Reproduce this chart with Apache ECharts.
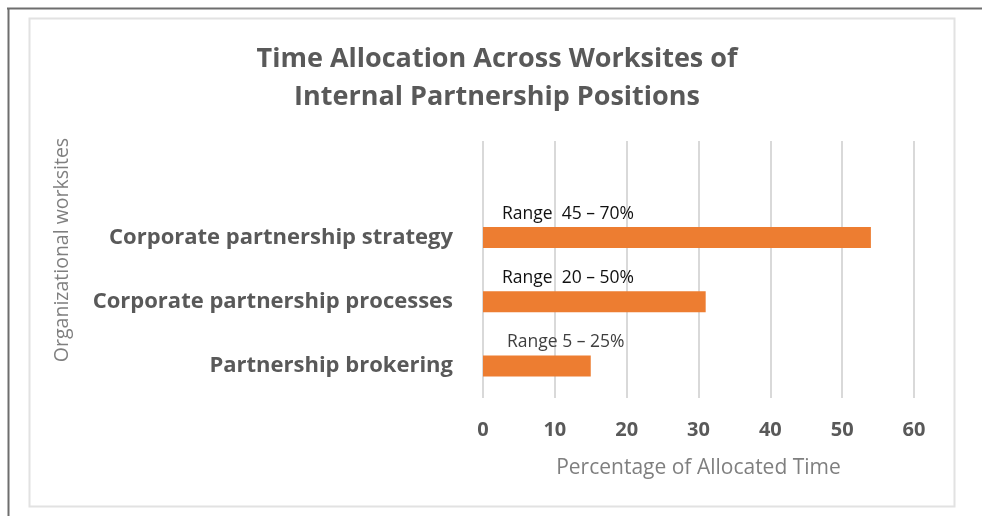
<!DOCTYPE html>
<html>
<head>
<meta charset="utf-8">
<script src="https://cdn.jsdelivr.net/npm/echarts@6/dist/echarts.min.js"></script>
<style>
  html, body { margin: 0; padding: 0; background: #fff; }
  #chart { width: 982px; height: 516px; }
</style>
</head>
<body>
<div id="chart"></div>
<script>
// categories, bottom to top (top row is an empty slot, as in the original)
const categories = ['Partnership brokering', 'Corporate partnership processes', 'Corporate partnership strategy', '']
const allocated = [15, 31, 54, null]
const rangeLabels = ['Range 5 – 25%', 'Range  20 – 50%', 'Range  45 – 70%', '']
const xTicks = [0, 10, 20, 30, 40, 50, 60]

const chart = echarts.init(document.getElementById('chart'))

// the lowest range note sits a little further right and in grey
const barData = allocated.map((v, i) =>
  i === 0 ? { value: v, label: { position: [24, -22], color: '#3f3f3f' } } : v
)

chart.setOption({
  animation: false,
  title: {
    text: 'Time Allocation Across Worksites of\nInternal Partnership Positions',
    left: 492,
    textAlign: 'center',
    top: 35,
    textStyle: {
      fontFamily: 'Open Sans',
      fontWeight: 'bold',
      fontSize: 27,
      lineHeight: 38,
      color: '#595959',
    },
  },
  graphic: [
    // outer dark edge
    { type: 'line', shape: { x1: 7, y1: 8.5, x2: 982, y2: 8.5 }, style: { stroke: '#6e6e6e', lineWidth: 2 } },
    { type: 'line', shape: { x1: 8.5, y1: 8, x2: 8.5, y2: 516 }, style: { stroke: '#6e6e6e', lineWidth: 2 } },
    // chart frame
    { type: 'rect', shape: { x: 29.5, y: 18.5, width: 925, height: 488 }, style: { fill: 'none', stroke: '#e2e2e2', lineWidth: 2 } },
    // y axis title (sits above the plot's middle in the original)
    {
      type: 'text',
      x: 62,
      y: 250,
      rotation: Math.PI / 2,
      style: {
        text: 'Organizational worksites',
        fontFamily: 'Open Sans',
        fontSize: 19.5,
        fill: '#7f7f7f',
        align: 'center',
        verticalAlign: 'middle',
      },
    },
  ],
  grid: {
    left: 483,
    right: 68,
    top: 141,
    bottom: 118,
  },
  xAxis: {
    type: 'value',
    min: 0,
    max: 60,
    interval: 10,
    name: 'Percentage of Allocated Time',
    nameLocation: 'middle',
    nameGap: 60,
    nameTextStyle: { fontFamily: 'Open Sans', fontSize: 21, color: '#7f7f7f' },
    axisLine: { show: false },
    axisTick: { show: false },
    axisLabel: {
      margin: 22,
      fontFamily: 'Open Sans',
      fontWeight: 'bold',
      fontSize: 20,
      color: '#595959',
      formatter: v => (xTicks.includes(v) ? String(v) : ''),
    },
    splitLine: { lineStyle: { color: '#d9d9d9', width: 2 } },
  },
  yAxis: {
    type: 'category',
    data: categories,
    axisLine: { show: false },
    axisTick: { show: false },
    axisLabel: {
      margin: 30,
      fontFamily: 'Open Sans',
      fontWeight: 'bold',
      fontSize: 22,
      color: '#595959',
    },
  },
  series: [
    {
      type: 'bar',
      data: barData,
      barWidth: 21,
      itemStyle: { color: '#ed7d31' },
      label: {
        show: true,
        position: [19, -22],
        fontFamily: 'Open Sans',
        fontSize: 17.5,
        color: '#111',
        formatter: p => rangeLabels[p.dataIndex],
      },
    },
  ],
})
</script>
</body>
</html>
